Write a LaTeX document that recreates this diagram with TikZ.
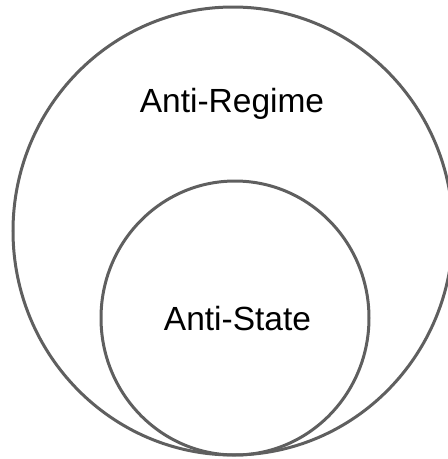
\documentclass[tikz,border=0pt]{standalone}
\usepackage{fontspec}
\setmainfont{Liberation Sans}
\usetikzlibrary{shapes.geometric}
\definecolor{ringgray}{RGB}{95,95,95}
\begin{document}
\begin{tikzpicture}[x=1pt,y=-1pt,
  ring/.style={draw=ringgray, line width=3pt, ellipse, inner sep=0pt},
  lbl/.style={font=\fontsize{33.5}{40}\selectfont, anchor=base, inner sep=0pt}]
\useasboundingbox (0,0) rectangle (448,459);
\clip (0,0) rectangle (448,459);
\node[ring, minimum width=440pt, minimum height=448pt] (outer) at (233,231) {};
\node[ring, minimum width=268pt, minimum height=274pt] (inner) at (235,318) {};
\node[lbl] (regime) at (232,112) {Anti-Regime};
\node[lbl] (state) at (237.5,330) {Anti-State};
\end{tikzpicture}
\end{document}
